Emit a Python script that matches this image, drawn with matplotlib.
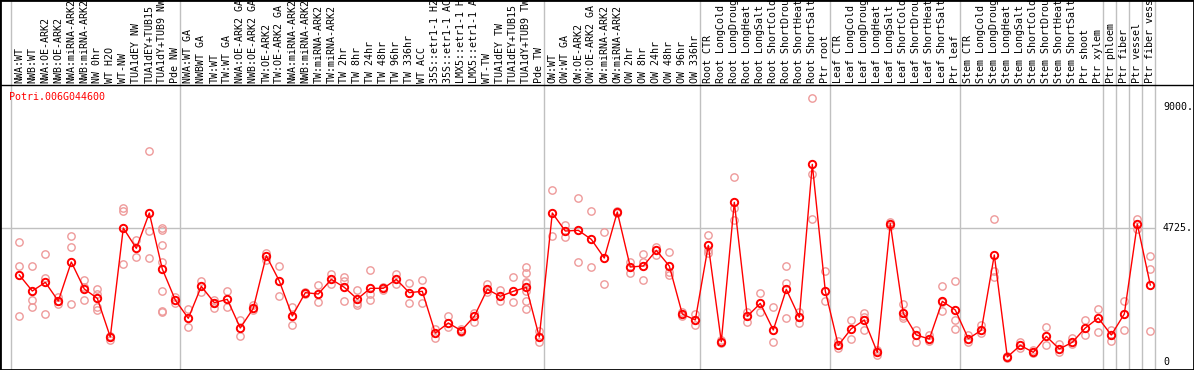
import matplotlib
matplotlib.use("Agg")
import matplotlib.pyplot as plt

gene = "Potri.006G044600"

labels = [
    "NWA:WT", "NWB:WT", "NWA:OE-ARK2", "NWB:OE-ARK2", "NWA:miRNA-ARK2", "NWB:miRNA-ARK2",
    "NW 0hr", "WT H2O", "WT-NW", "TUA1dEY NW", "TUA1dEY+TUB15", "TUA1dY+TUB9 NW", "Pde NW",
    "NWA:WT GA", "NWBWT GA", "TW:WT", "TW:WT GA", "NWA:OE-ARK2 GA", "NWB:OE-ARK2 GA",
    "TW:OE-ARK2", "TW:OE-ARK2 GA", "NWA:miRNA-ARK2", "NWB:miRNA-ARK2", "TW:miRNA-ARK2",
    "TW:miRNA-ARK2", "TW 2hr", "TW 8hr", "TW 24hr", "TW 48hr", "TW 96hr", "TW 336hr", "WT ACC",
    "35S::etr1-1 H2", "35S::etr1-1 AC", "LMX5::etr1-1 H", "LMX5::etr1-1 A", "WT-TW", "TUA1dEY TW",
    "TUA1dEY+TUB15 ", "TUA1dY+TUB9 TW", "Pde TW",
    "OW:WT", "OW:WT GA", "OW:OE-ARK2", "OW:OE-ARK2 GA", "OW:miRNA-ARK2", "OW:miRNA-ARK2",
    "OW 2hr", "OW 8hr", "OW 24hr", "OW 48hr", "OW 96hr", "OW 336hr",
    "Root CTR", "Root LongCold", "Root LongDroug", "Root LongHeat", "Root LongSalt",
    "Root ShortCold", "Root ShortDrou", "Root ShortHeat", "Root ShortSalt", "Ptr root",
    "Leaf CTR", "Leaf LongCold", "Leaf LongDroug", "Leaf LongHeat", "Leaf LongSalt",
    "Leaf ShortCold", "Leaf ShortDrou", "Leaf ShortHeat", "Leaf ShortSalt", "Ptr leaf",
    "Stem CTR", "Stem LongCold", "Stem LongDroug", "Stem LongHeat", "Stem LongSalt",
    "Stem ShortCold", "Stem ShortDrou", "Stem ShortHeat", "Stem ShortSalt", "Ptr shoot",
    "Ptr xylem", "Ptr phloem", "Ptr fiber", "Ptr vessel", "Ptr fiber vess",
]

means = [
    3068, 2503, 2809, 2151, 3526, 2574, 2245, 881, 4725, 4008, 5254, 3279, 2186,
    1540, 2668, 2092, 2210, 1199, 1892, 3749, 2856, 1622, 2445, 2398, 2915, 2633,
    2221, 2598, 2598, 2915, 2445, 2492, 1023, 1375, 1105, 1611, 2562, 2316, 2492, 2633, 881,
    5254, 4619, 4643, 4325, 3667, 5289, 3350, 3385, 3937, 3385, 1692, 1481,
    4114, 717, 5630, 1611, 2068, 1128, 2562, 1575, 6970, 2503,
    588, 1175, 1481, 341, 4878, 1716, 952, 811, 2139, 1834,
    823, 1117, 3773, 176, 588, 341, 905, 458, 694, 1199, 1551,
    952, 1692, 4866, 2715,
]

reps = [
    [4220, 3374, 1611], [3374, 2186, 1951], [3808, 2962, 1692], [2280, 2033, 2140],
    [4443, 4055, 2045], [2880, 2186, 2650], [2574, 1939, 1834, 2398], [916, 776, 880],
    [5430, 5312, 3455], [4302, 3714], [7440, 4607, 3655],
    [4737, 4654, 4125, 3514, 2503, 1787, 1751], [2304, 2068],
    [1869, 1222], [2856, 2480], [2186, 1892, 2092], [2503, 1928], [1481, 928], [2010, 1830],
    [3855, 3597], [3385, 2327], [1951, 1293], [2480, 2410], [2715, 2116], [3091, 2750],
    [2997, 2856, 2151], [2527, 2068, 2010], [3244, 2398, 2186], [2660, 2540], [3091, 2739],
    [2774, 2068], [2880, 2068], [1164, 858], [1611, 1234], [1152, 1070], [1740, 1422],
    [2750, 2468], [2527, 2163], [2997, 2116], [3350, 3127, 2809, 2770, 2515, 2151, 1869],
    [1105, 694],
    [6065, 4443], [4831, 4408], [5783, 3514], [5324, 3338], [4572, 2739], [5330, 5240],
    [3526, 3127], [3808, 3514, 2880], [4067, 3785], [3867, 3185, 3056], [1770, 1620],
    [1681, 1293],
    [4467, 3960, 3844], [770, 680], [6511, 5418, 5007], [1775, 1399], [2421, 1775],
    [1928, 694], [3374, 2797, 1562], [1775, 1364], [9297, 6617, 5030], [3209, 2163],
    [740, 505], [1481, 823], [1716, 1128, 1600], [420, 250], [4950, 4810],
    [2033, 1620, 1562], [1128, 694], [940, 740], [2680, 1798, 2100], [2856, 1481, 1152],
    [940, 720], [1293, 1040], [5030, 3220, 2985], [130, 220], [690, 480], [420, 300],
    [1222, 599], [640, 370], [830, 640], [1481, 963], [1869, 1046],
    [1128, 752], [2163, 1128], [5053, 4690], [3738, 3268, 1105],
]

group_starts = [0, 13, 41, 53, 63, 73, 84, 85, 86, 87, 88]
yticks = [0, 4725, 9000]
ytick_text = ["0", "4725.", "9000."]

GRAY = "#c0c0c0"
RED = "#ff0000"
PINK = "#ee9a9a"
MONO = "DejaVu Sans Mono"


def py2v(py):
    # image row -> value (0 sits at row 362, 4725 at row 228)
    return (362 - py) * 4725 / 134.0


def px2i(px):
    # image column -> column index (13 px per column)
    return (px - 19.3) / 13.0


fig = plt.figure(figsize=(11.94, 3.70), dpi=100)
ax = fig.add_axes([0, 0, 1, 1])
ax.set_xlim(px2i(0), px2i(1194))
ax.set_ylim(py2v(370), py2v(0))
ax.set_xticks([])
ax.set_yticks([])
for s in ax.spines.values():
    s.set_color("black")
    s.set_linewidth(2)

# group separators
for g in group_starts:
    ax.axvline(g - 0.62, color=GRAY, lw=1, zorder=1)

ax.hlines(4725, px2i(0), group_starts[-1] - 0.62, color=GRAY, lw=1, zorder=1)
ax.axhline(py2v(85), color="black", lw=1, zorder=2)

# replicates
for i, r in enumerate(reps):
    ax.plot([i] * len(r), r, "o", ms=5.3, mfc="none", mec=PINK, mew=1.0, zorder=3)

x = list(range(len(means)))
ax.plot(x, means, "-", color=RED, lw=1, zorder=4)
ax.plot(x, means, "o", ms=5.3, mfc="none", mec=RED, mew=1.4, zorder=5)

for i, lab in enumerate(labels):
    ax.text(i, py2v(83), lab, rotation=90, ha="center", va="bottom",
            family=MONO, fontsize=7.2, color="black")

for v, t in zip(yticks, ytick_text):
    ax.text(px2i(1163), v, t, ha="left", va="center", family=MONO, fontsize=7.2)

ax.text(px2i(9), py2v(97), gene, ha="left", va="center", family=MONO,
        fontsize=7.2, color=RED)

fig.savefig("out.png", dpi=100)
